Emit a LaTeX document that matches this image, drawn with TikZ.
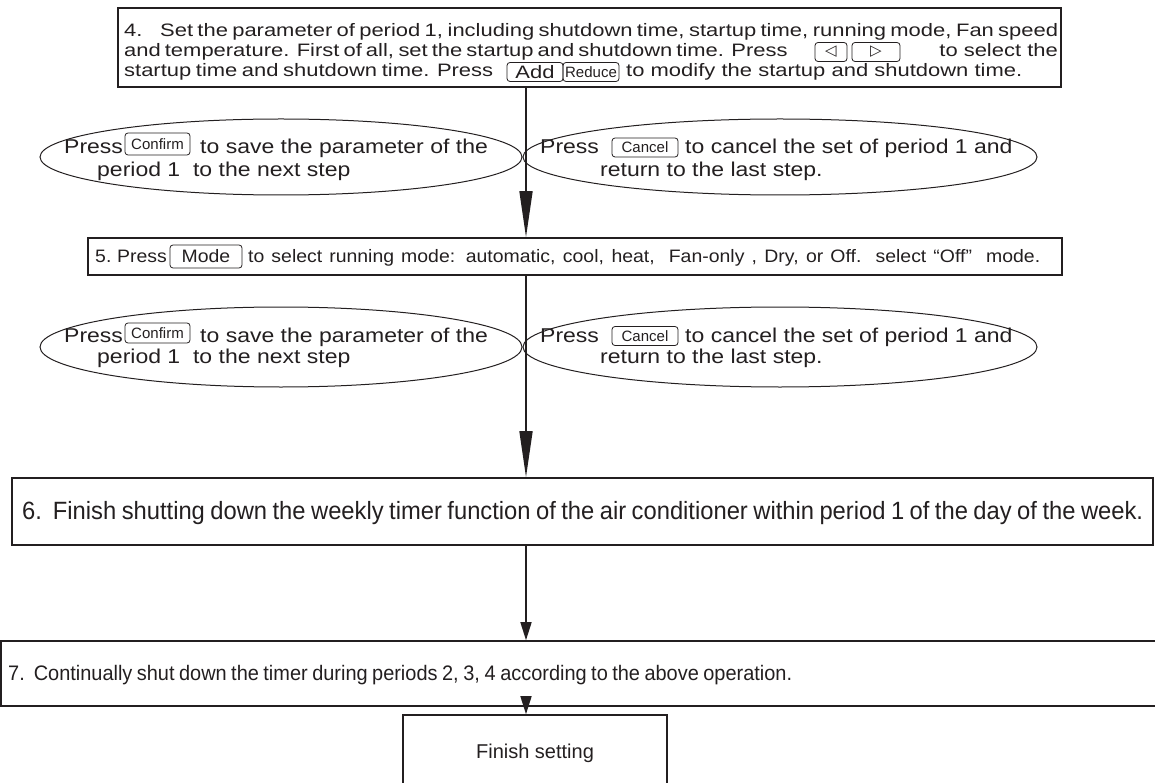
\documentclass[tikz,border=0pt]{standalone}
\usepackage{fontspec}
\setmainfont{Liberation Sans}
\newfontfamily\fwideA[FakeStretch=1.22]{Liberation Sans}
\newfontfamily\fwideB[FakeStretch=1.15]{Liberation Sans}
\newfontfamily\fwideC[FakeStretch=1.08]{Liberation Sans}
\newfontfamily\fnarrow[FakeStretch=0.95]{Liberation Sans}
\newfontfamily\symf{DejaVu Sans}
\usetikzlibrary{arrows.meta,shapes.geometric}
\definecolor{ink}{HTML}{231F20}
\newcommand\fA{\fwideA\fontsize{18}{18}\selectfont}
\newcommand\fB{\fwideB\fontsize{20}{20}\selectfont}
\newcommand\fC{\fwideC\fontsize{18}{18}\selectfont}
\newcommand\fD{\fnarrow\fontsize{25}{25}\selectfont}
\newcommand\fE{\fnarrow\fontsize{21}{21}\selectfont}
\newcommand\fF{\fontsize{20}{20}\selectfont}
\newcommand\fK{\fontsize{15}{15}\selectfont}
\begin{document}
\begin{tikzpicture}[x=1pt,y=-1pt,
  box/.style={draw=ink,line width=1.6pt,inner sep=0pt,rectangle},
  ell/.style={draw=ink,line width=1pt,ellipse,inner sep=0pt},
  txt/.style={anchor=base west,inner sep=0pt,text=ink},
  key/.style={draw=ink,line width=0.8pt,rounded corners=3pt,inner sep=0pt,text=ink,font=\fK,minimum height=19pt},
  arr/.style={draw=ink,line width=1.6pt,-{Triangle[length=46pt,width=13pt]}},
  arrs/.style={draw=ink,line width=1.6pt,-{Triangle[length=18pt,width=11pt]}}]
\useasboundingbox (0,0) rectangle (1155,783);
\clip (0,0) rectangle (1155,783);
\coordinate (ax) at (526,0);
% box 4
\node[box,minimum width=943pt,minimum height=79pt] (b4) at (589.5,47.5) {};
\node[txt,font=\fA] (t4a) at (124,36.5) {4.};
\node[txt,font=\fA] (t4b) at (160,36.5) {\makebox[898pt][s]{Set the parameter of period 1, including shutdown time, startup time, running mode, Fan speed}};
\node[txt,font=\fA] (t4c) at (124,56.5) {\makebox[659pt][s]{and temperature. First of all, set the startup and shutdown time. Press}};
\node[key,minimum width=32pt] (kl) at (831,52) {\symf ◁};
\node[key,minimum width=48pt] (kr) at (876,52) {\symf ▷};
\node[txt,font=\fA,anchor=base east] (t4d) at (1058,56.5) {to select the};
\node[txt,font=\fA] (t4e) at (124,76.5) {\makebox[369pt][s]{startup time and shutdown time. Press}};
\node[key,minimum width=56pt,font=\fA] (kadd) at (535,72) {Add};
\node[key,minimum width=56pt] (kred) at (591,72) {Reduce};
\node[txt,font=\fA] (t4f) at (626,76.5) {\makebox[396pt][s]{to modify the startup and shutdown time.}};
% ellipses row 1
\node[ell,minimum width=482pt,minimum height=76pt] (e1l) at (281,157) {};
\node[ell,minimum width=514pt,minimum height=76pt] (e1r) at (780,157) {};
\node[txt,font=\fB] (e1a) at (64,154) {Press};
\node[key,minimum width=65pt,minimum height=22pt] (kc1) at (157.5,144) {Confirm};
\node[txt,font=\fB] (e1b) at (200,154) {to save the parameter of the};
\node[txt,font=\fB] (e1c) at (97,177) {period 1\ \ to the next step};
\node[txt,font=\fB] (e1d) at (540,154) {Press};
\node[key,minimum width=66pt] (kx1) at (645,147.5) {Cancel};
\node[txt,font=\fB] (e1e) at (685,154) {to cancel the set of period 1 and};
\node[txt,font=\fB] (e1f) at (600,177) {return to the last step.};
% box 5
\node[box,minimum width=974pt,minimum height=37pt] (b5) at (575,256.5) {};
\node[txt,font=\fC] (t5a) at (95,263) {5.};
\node[txt,font=\fC] (t5b) at (117,263) {Press};
\node[key,minimum width=72pt,minimum height=23pt,font=\fC] (kmode) at (206,256.5) {Mode};
\node[txt,font=\fC] (t5c) at (248,263) {\makebox[792pt][s]{to select running mode: automatic, cool, heat,\ \ Fan-only , Dry, or Off.\ \ select “Off”\ \ mode.}};
% ellipses row 2
\node[ell,minimum width=482pt,minimum height=80pt] (e2l) at (281,347) {};
\node[ell,minimum width=514pt,minimum height=80pt] (e2r) at (780,347) {};
\node[txt,font=\fB] (e2a) at (64,342) {Press};
\node[key,minimum width=65pt,minimum height=20pt] (kc2) at (157.5,333) {Confirm};
\node[txt,font=\fB] (e2b) at (200,342) {to save the parameter of the};
\node[txt,font=\fB] (e2c) at (97,363) {period 1\ \ to the next step};
\node[txt,font=\fB] (e2d) at (540,342) {Press};
\node[key,minimum width=66pt] (kx2) at (645,336) {Cancel};
\node[txt,font=\fB] (e2e) at (685,342) {to cancel the set of period 1 and};
\node[txt,font=\fB] (e2f) at (600,363) {return to the last step.};
% box 6
\node[box,minimum width=1141pt,minimum height=67pt] (b6) at (582.5,511.5) {};
\node[txt,font=\fD] (t6) at (22,519.5) {\makebox[1121pt][s]{6.\ \ Finish shutting down the weekly timer function of the air conditioner within period 1 of the day of the week.}};
% box 7
\node[box,minimum width=1169pt,minimum height=65pt] (b7) at (585.5,673.5) {};
\node[txt,font=\fE] (t7) at (8,680.5) {\makebox[784pt][s]{7.\ \ Continually shut down the timer during periods 2, 3, 4 according to the above operation.}};
% finish
\node[box,minimum width=264pt,minimum height=84pt] (bf) at (535,757) {};
\node[txt,font=\fF,anchor=base] (tf) at (535,758) {Finish setting};
% arrows
\draw[arr] (ax |- b4.south) -- (ax |- b5.north);
\draw[arr] (ax |- b5.south) -- (ax |- b6.north);
\draw[arrs] (ax |- b6.south) -- (ax |- b7.north);
\draw[arrs] (ax |- b7.south) -- (ax |- bf.north);
\end{tikzpicture}
\end{document}
